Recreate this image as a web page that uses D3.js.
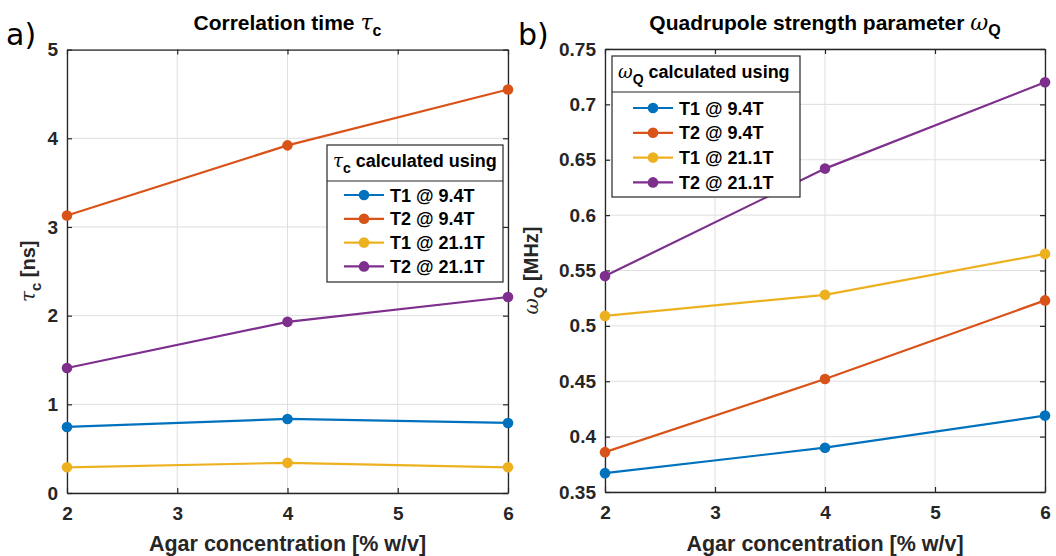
<!DOCTYPE html>
<html><head><meta charset="utf-8">
<script src="https://cdn.jsdelivr.net/npm/d3@7"></script>
<style>
body{margin:0;background:#fff;}
svg{font-family:"Liberation Sans",Arial,sans-serif;}
</style></head>
<body>
<svg id="c" width="1056" height="556"></svg>
<script>
const xVals = [2, 4, 6];
const xTicks = [2, 3, 4, 5, 6];
const seriesNames = ["T1 @ 9.4T", "T2 @ 9.4T", "T1 @ 21.1T", "T2 @ 21.1T"];
const colors = ["#0072BD", "#D95319", "#EDB120", "#7E2F8E"];
const tauT1_94 = [0.745, 0.835, 0.79];
const tauT2_94 = [3.13, 3.92, 4.55];
const tauT1_211 = [0.29, 0.34, 0.29];
const tauT2_211 = [1.41, 1.93, 2.21];
const wqT1_94 = [0.367, 0.390, 0.419];
const wqT2_94 = [0.386, 0.452, 0.523];
const wqT1_211 = [0.509, 0.528, 0.565];
const wqT2_211 = [0.545, 0.642, 0.720];
const tauTicks = [0, 1, 2, 3, 4, 5];
const wqTicks = [0.35, 0.4, 0.45, 0.5, 0.55, 0.6, 0.65, 0.7, 0.75];

const svg = d3.select("#c");
const axCol = "#262626";

function panel(opt) {
  const g = svg.append("g");
  const x = d3.scaleLinear().domain([2, 6]).range([opt.x0, opt.x1]);
  const y = d3.scaleLinear().domain(opt.ydom).range([opt.y0, opt.y1]);
  // grid
  g.selectAll(".gx").data(xTicks).enter().append("line")
    .attr("x1", d => x(d)).attr("x2", d => x(d))
    .attr("y1", opt.y0).attr("y2", opt.y1)
    .attr("stroke", "#dfdfdf").attr("stroke-width", 1);
  g.selectAll(".gy").data(opt.ticks).enter().append("line")
    .attr("x1", opt.x0).attr("x2", opt.x1)
    .attr("y1", d => y(d)).attr("y2", d => y(d))
    .attr("stroke", "#dfdfdf").attr("stroke-width", 1);
  // axes
  const xa = d3.axisBottom(x).tickValues(xTicks).tickSize(-5).tickSizeOuter(0).tickPadding(14).tickFormat(d3.format("d"));
  const xat = d3.axisTop(x).tickValues(xTicks).tickSize(-5).tickSizeOuter(0).tickFormat("");
  const ya = d3.axisLeft(y).tickValues(opt.ticks).tickSize(-5).tickSizeOuter(0).tickPadding(9).tickFormat(opt.fmt);
  const yar = d3.axisRight(y).tickValues(opt.ticks).tickSize(-5).tickSizeOuter(0).tickFormat("");
  [ [xa, `translate(0,${opt.y0})`], [xat, `translate(0,${opt.y1})`], [ya, `translate(${opt.x0},0)`], [yar, `translate(${opt.x1},0)`] ].forEach(([a, t]) => {
    const ag = g.append("g").attr("transform", t).call(a);
    ag.select(".domain").attr("stroke", axCol).attr("stroke-width", 1.3);
    ag.selectAll(".tick line").attr("stroke", axCol).attr("stroke-width", 1.2);
    ag.selectAll("text").attr("fill", axCol).style("font-size", "19px").style("font-weight", "bold");
  });
  // lines
  const line = d3.line().x((d, i) => x(xVals[i])).y(d => y(d));
  opt.series.forEach((s, k) => {
    g.append("path").datum(s).attr("d", line).attr("fill", "none")
      .attr("stroke", colors[k]).attr("stroke-width", 2.2);
    g.selectAll(null).data(s).enter().append("circle")
      .attr("cx", (d, i) => x(xVals[i])).attr("cy", d => y(d)).attr("r", 5.3)
      .attr("fill", colors[k]);
  });
  // title
  const t = g.append("text").attr("x", (opt.x0 + opt.x1) / 2).attr("y", 30)
    .attr("text-anchor", "middle").attr("fill", "#000").style("font-size", "21px").style("font-weight", "bold");
  t.append("tspan").text(opt.title + " ");
  t.append("tspan").text(opt.sym).style("font-family", "DejaVu Serif, serif").style("font-style", "italic").style("font-weight", "normal").style("font-size", "22px");
  t.append("tspan").text(opt.sub).attr("dy", 6).style("font-size", "16px");
  // panel letter
  g.append("text").attr("x", opt.letterX).attr("y", 45).text(opt.letter)
    .attr("fill", "#000").style("font-family", "DejaVu Sans, sans-serif").style("font-size", "30px");
  // x label
  g.append("text").attr("x", (opt.x0 + opt.x1) / 2).attr("y", 551).attr("text-anchor", "middle")
    .attr("fill", axCol).style("font-size", "21.5px").style("font-weight", "bold").text("Agar concentration [% w/v]");
  // y label
  const yl = g.append("text").attr("transform", `translate(${opt.ylx},${(opt.y0 + opt.y1) / 2}) rotate(-90)`)
    .attr("text-anchor", "middle").attr("fill", axCol).style("font-size", "20px").style("font-weight", "bold");
  yl.append("tspan").text(opt.sym).style("font-family", "DejaVu Serif, serif").style("font-style", "italic").style("font-weight", "normal");
  yl.append("tspan").text(opt.sub).attr("dy", 6).style("font-size", "15px");
  yl.append("tspan").text(" [" + opt.unit + "]").attr("dy", -6);
  // legend
  const L = opt.leg;
  const lg = g.append("g");
  lg.append("rect").attr("x", L.x).attr("y", L.y).attr("width", L.w).attr("height", L.h)
    .attr("fill", "#fff").attr("stroke", axCol).attr("stroke-width", 1.2);
  lg.append("line").attr("x1", L.x).attr("x2", L.x + L.w).attr("y1", L.y + 36).attr("y2", L.y + 36)
    .attr("stroke", axCol).attr("stroke-width", 1.2);
  const ht = lg.append("text").attr("x", L.x + 6).attr("y", L.y + 22).attr("fill", "#000")
    .style("font-size", "18px").style("font-weight", "bold");
  ht.append("tspan").text(opt.sym).style("font-family", "DejaVu Serif, serif").style("font-style", "italic").style("font-weight", "normal");
  ht.append("tspan").text(opt.sub).attr("dy", 6).style("font-size", "14px");
  ht.append("tspan").text(" calculated using").attr("dy", -6);
  seriesNames.forEach((n, k) => {
    const yy = L.y + L.r0 + k * L.dr;
    lg.append("line").attr("x1", L.x + L.lx).attr("x2", L.x + L.lx + 40).attr("y1", yy).attr("y2", yy)
      .attr("stroke", colors[k]).attr("stroke-width", 2.2);
    lg.append("circle").attr("cx", L.x + L.lx + 20).attr("cy", yy).attr("r", 5.3).attr("fill", colors[k]);
    lg.append("text").attr("x", L.x + L.lx + 46).attr("y", yy + 6.5).text(n)
      .attr("fill", "#000").style("font-size", "18px").style("font-weight", "bold");
  });
}

panel({x0: 67, x1: 508, y0: 493, y1: 49.6, ydom: [0, 5], ticks: tauTicks, fmt: d3.format("d"),
  series: [tauT1_94, tauT2_94, tauT1_211, tauT2_211],
  title: "Correlation time", sym: "τ", sub: "c", unit: "ns", letter: "a)", letterX: 6, ylx: 35,
  leg: {x: 327, y: 145, w: 176, h: 137, lx: 17, r0: 50, dr: 23.8}});
panel({x0: 605, x1: 1045, y0: 492, y1: 49, ydom: [0.35, 0.75], ticks: wqTicks, fmt: d => d3.format(".2~f")(d),
  series: [wqT1_94, wqT2_94, wqT1_211, wqT2_211],
  title: "Quadrupole strength parameter", sym: "ω", sub: "Q", unit: "MHz", letter: "b)", letterX: 518, ylx: 538,
  leg: {x: 612, y: 56, w: 188, h: 141, lx: 21, r0: 52, dr: 24.8}});
</script>
</body></html>
